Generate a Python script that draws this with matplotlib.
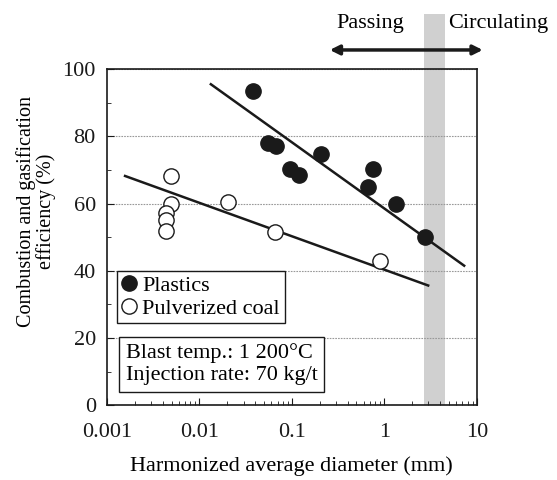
import matplotlib
matplotlib.use("Agg")
import matplotlib.pyplot as plt
from matplotlib.lines import Line2D
from matplotlib.ticker import LogLocator, MultipleLocator, FixedLocator, FixedFormatter

plt.rcParams['font.family'] = ['Liberation Serif', 'DejaVu Serif']

# plastics (filled)
plastics_d = [0.038, 0.0555, 0.068, 0.095, 0.12, 0.206, 0.745, 0.674, 1.33, 2.76]
plastics_eff = [93.5, 77.9, 77.1, 70.4, 68.5, 74.6, 70.2, 65.0, 59.8, 50.1]

# pulverized coal (open)
coal_d = [0.0049, 0.0049, 0.0044, 0.0044, 0.0044, 0.0202, 0.0655, 0.894]
coal_eff = [68.2, 59.8, 57.3, 55.0, 51.8, 60.5, 51.4, 42.8]

# trend lines (end points)
plastics_fit_d = [0.0133, 7.3]
plastics_fit_eff = [95.5, 41.5]
coal_fit_d = [0.00157, 2.98]
coal_fit_eff = [68.2, 35.6]

band = (2.7, 4.5)

xticks = [0.001, 0.01, 0.1, 1, 10]
xtick_labels = ['0.001', '0.01', '0.1', '1', '10']

FS = 16
ink = '#1a1a1a'

fig = plt.figure(figsize=(5.57, 4.8), dpi=100)
ax = fig.add_axes([0.192, 0.156, 0.664, 0.700])

ax.set_xscale('log')
ax.set_xlim(0.001, 10)
ax.set_ylim(0, 100)

ax.axvspan(band[0], band[1], ymin=0, ymax=1.164, color='#d0d0d0',
           clip_on=False, zorder=0, lw=0)

ax.yaxis.grid(True, linestyle=(0, (1.5, 1)), color='#999999', lw=0.8)
ax.set_axisbelow(True)

ax.plot(plastics_fit_d, plastics_fit_eff, color=ink, lw=1.8, zorder=2)
ax.plot(coal_fit_d, coal_fit_eff, color=ink, lw=1.8, zorder=2)

ax.plot(plastics_d, plastics_eff, 'o', ms=11, mfc=ink, mec=ink, zorder=3)
ax.plot(coal_d, coal_eff, 'o', ms=11, mfc='white', mec=ink, mew=1.0,
        zorder=3)

ax.xaxis.set_major_locator(FixedLocator(xticks))
ax.xaxis.set_major_formatter(FixedFormatter(xtick_labels))
ax.xaxis.set_minor_locator(LogLocator(base=10, subs=range(2, 10)))
ax.yaxis.set_major_locator(MultipleLocator(20))
ax.yaxis.set_minor_locator(MultipleLocator(10))
ax.tick_params(which='both', direction='in', top=False, right=False,
               labelsize=FS, colors=ink)
ax.tick_params(which='major', length=5)
ax.tick_params(axis='x', which='major', pad=13)
ax.tick_params(axis='y', which='major', pad=8)
ax.tick_params(which='minor', length=3)
for s in ax.spines.values():
    s.set_linewidth(1.2)
    s.set_color(ink)

ax.set_xlabel('Harmonized average diameter (mm)', fontsize=FS, labelpad=10)
ax.set_ylabel('Combustion and gasification\nefficiency (%)', fontsize=14.5,
              linespacing=1.0)
ax.yaxis.set_label_coords(-0.138, 0.577)

handles = [
    Line2D([], [], marker='o', ls='', ms=11, mfc=ink, mec=ink),
    Line2D([], [], marker='o', ls='', ms=11, mfc='white', mec=ink),
]
leg = ax.legend(handles, ['Plastics', 'Pulverized coal'], loc='upper left',
                bbox_to_anchor=(0.027, 0.399), borderaxespad=0, fontsize=FS,
                fancybox=False, framealpha=1, edgecolor=ink,
                handlelength=0.7, handletextpad=0.25, borderpad=0.2,
                labelspacing=0.1)
leg.get_frame().set_linewidth(1.0)

ax.text(0.051, 0.06, 'Blast temp.: 1 200°C\nInjection rate: 70 kg/t',
        transform=ax.transAxes, fontsize=FS, va='bottom', ha='left',
        linespacing=1.18,
        bbox=dict(boxstyle='square,pad=0.3', fc='white', ec=ink, lw=1.0))

ax.annotate('', xy=(11.6, 105.7), xytext=(0.257, 105.7),
            arrowprops=dict(arrowstyle='<|-|>', lw=2.5, color=ink,
                            mutation_scale=14, shrinkA=0, shrinkB=0),
            annotation_clip=False)
ax.text(0.70, 113.5, 'Passing', fontsize=FS, ha='center', va='center',
        clip_on=False)
ax.text(4.9, 113.5, 'Circulating', fontsize=FS, ha='left', va='center',
        clip_on=False)

fig.savefig('out.png', dpi=100)
